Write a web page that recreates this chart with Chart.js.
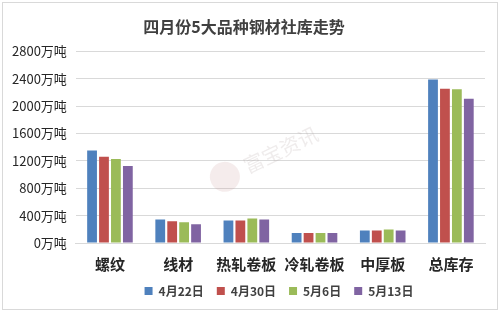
<!DOCTYPE html>
<html>
<head>
<meta charset="utf-8">
<script src="https://cdn.jsdelivr.net/npm/chart.js@4"></script>
<style>
    html, body { margin: 0; padding: 0; background: #fff; }
    #wrap { position: absolute; left: 2px; top: 2px; width: 494px; height: 306px; border: 1px solid #d9d9d9; }
    canvas { display: block; }
</style>
</head>
<body>
<div id="wrap"><canvas id="stockChart" width="494" height="306"></canvas></div>
<script>
// 四月份5大品种钢材社库 (万吨)
const categories = ['螺纹', '线材', '热轧卷板', '冷轧卷板', '中厚板', '总库存'];
const dates = ['4月22日', '4月30日', '5月6日', '5月13日'];
const apr22 = [1352, 343, 328, 146, 182, 2387];
const apr30 = [1259, 318, 328, 146, 182, 2251];
const may6 = [1225, 303, 357, 146, 197, 2246];
const may13 = [1123, 274, 343, 146, 182, 2106];
const yTicks = [0, 400, 800, 1200, 1600, 2000, 2400, 2800];

const colors = ['#4f81bd', '#c0504d', '#9bbb59', '#8064a2'];
const series = [apr22, apr30, may6, may13];

// legend sits a bit right of centre, like the original
const legendShift = {
    id: 'legendShift',
    afterLayout(chart) {
        const lg = chart.legend;
        lg.left += 35; lg.right += 35;
        lg.top -= 5; lg.bottom -= 5;
    }
};

// faint watermark
const watermark = {
    id: 'watermark',
    beforeDatasetsDraw(chart) {
        const c = chart.ctx;
        c.save();
        c.translate(258, 152);
        c.rotate(-Math.PI / 7);
        c.fillStyle = 'rgba(200,150,150,0.18)';
        c.beginPath(); c.arc(-42, 4, 15, 0, Math.PI * 2); c.fill();
        c.fillStyle = 'rgba(180,170,170,0.22)';
        c.font = '20px "Noto Sans CJK SC"';
        c.textBaseline = 'middle';
        c.fillText('富宝资讯', -20, 4);
        c.restore();
    }
};

const ctx = document.getElementById('stockChart').getContext('2d');
new Chart(ctx, {
    type: 'bar',
    data: {
        labels: categories,
        datasets: series.map((vals, i) => ({
            label: dates[i],
            data: vals,
            backgroundColor: colors[i],
            borderWidth: 0,
            categoryPercentage: 0.7,
            barPercentage: 0.82
        }))
    },
    options: {
        responsive: false,
        animation: false,
        layout: { padding: { left: 0, right: 12, top: 4, bottom: -3 } },
        plugins: {
            title: {
                display: true,
                text: '四月份5大品种钢材社库走势',
                color: '#404040',
                font: { family: '"Noto Sans CJK SC"', size: 16, weight: 'bold' },
                padding: { top: 10, bottom: 15 }
            },
            legend: {
                position: 'bottom',
                labels: {
                    color: '#404040',
                    boxWidth: 8,
                    boxHeight: 8,
                    padding: 13,
                    font: { family: '"Noto Sans CJK SC"', size: 12, weight: 'bold' }
                }
            },
            tooltip: { enabled: false }
        },
        scales: {
            y: {
                min: 0,
                max: 2800,
                afterBuildTicks: axis => { axis.ticks = yTicks.map(v => ({ value: v })); },
                grid: { color: '#d9d9d9', drawTicks: false },
                border: { display: false },
                ticks: {
                    padding: 9,
                    color: '#262626',
                    font: { family: '"Noto Sans CJK SC"', size: 13 },
                    callback: v => v + '万吨'
                }
            },
            x: {
                grid: { display: false },
                border: { color: '#d9d9d9' },
                ticks: {
                    color: '#262626',
                    padding: 4,
                    maxRotation: 0,
                    minRotation: 0,
                    autoSkip: false,
                    font: { family: '"Noto Sans CJK SC"', size: 15, weight: 'bold' }
                }
            }
        }
    },
    plugins: [legendShift, watermark]
});
</script>
</body>
</html>
